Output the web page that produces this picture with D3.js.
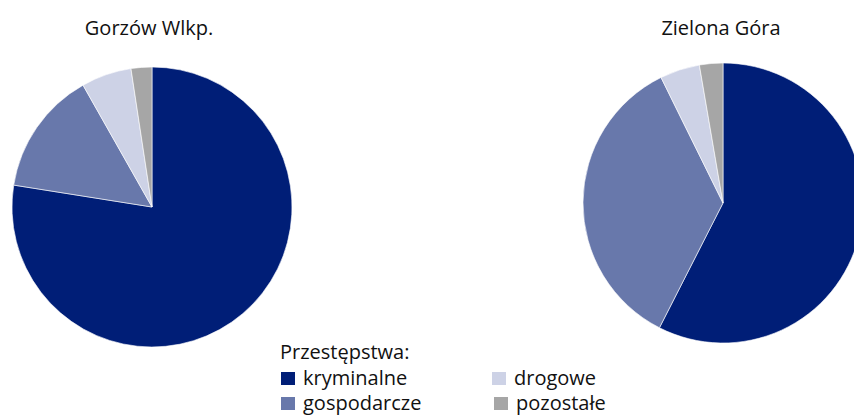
<!DOCTYPE html>
<html>
<head>
<meta charset="utf-8">
<script src="https://cdn.jsdelivr.net/npm/d3@7"></script>
<style>
  body { margin: 0; background: #fff; }
  text { font-family: "Open Sans", "Noto Sans", sans-serif; fill: #111; }
</style>
</head>
<body>
<div id="chart"></div>
<script>
// chart size
const svgWidth = 854;
const svgHeight = 415;

// data (percent shares)
const categories = ["kryminalne", "gospodarcze", "drogowe", "pozostałe"];
const cities = ["Gorzów Wlkp.", "Zielona Góra"];
const gorzowValues = [77.5, 14.3, 5.8, 2.4];
const zielonaValues = [57.5, 35.2, 4.6, 2.7];
const legendTitle = "Przestępstwa:";

const colors = d3.scaleOrdinal()
    .domain(categories)
    .range(["#001e77", "#6878ab", "#cdd2e6", "#a6a6a6"]);

const svg = d3.select("#chart")
    .append("svg")
    .attr("width", svgWidth)
    .attr("height", svgHeight);

const radius = 140;
const pie = d3.pie().sort(null).value(d => d.value);
const arc = d3.arc().innerRadius(0).outerRadius(radius);

// one pie per city
const pies = [
    { name: cities[0], values: gorzowValues, cx: 152, cy: 207, tx: 149 },
    { name: cities[1], values: zielonaValues, cx: 723, cy: 203, tx: 721 }
];

pies.forEach(p => {
    const data = categories.map((c, i) => ({ key: c, value: p.values[i] }));
    const g = svg.append("g")
        .attr("transform", `translate(${p.cx}, ${p.cy})`);

    g.selectAll("path")
        .data(pie(data))
        .enter()
        .append("path")
        .attr("d", arc)
        .attr("fill", d => colors(d.data.key))
        .attr("stroke", "#fff")
        .attr("stroke-width", 0.6);

    svg.append("text")
        .attr("x", p.tx)
        .attr("y", 35)
        .attr("text-anchor", "middle")
        .style("font-size", "20px")
        .text(p.name);
});

// legend
const legend = svg.append("g");

legend.append("text")
    .attr("x", 280)
    .attr("y", 359)
    .style("font-size", "20px")
    .text(legendTitle);

const legendPos = [
    { x: 281, y: 385 },
    { x: 281, y: 410 },
    { x: 492, y: 385 },
    { x: 494, y: 410 }
];

const items = legend.selectAll("g.item")
    .data(categories)
    .enter()
    .append("g")
    .attr("class", "item")
    .attr("transform", (d, i) => `translate(${legendPos[i].x}, ${legendPos[i].y})`);

items.append("rect")
    .attr("x", 0)
    .attr("y", -13)
    .attr("width", 14)
    .attr("height", 13)
    .attr("fill", d => colors(d));

items.append("text")
    .attr("x", 22)
    .attr("y", 0)
    .style("font-size", "20px")
    .text(d => d);
</script>
</body>
</html>
